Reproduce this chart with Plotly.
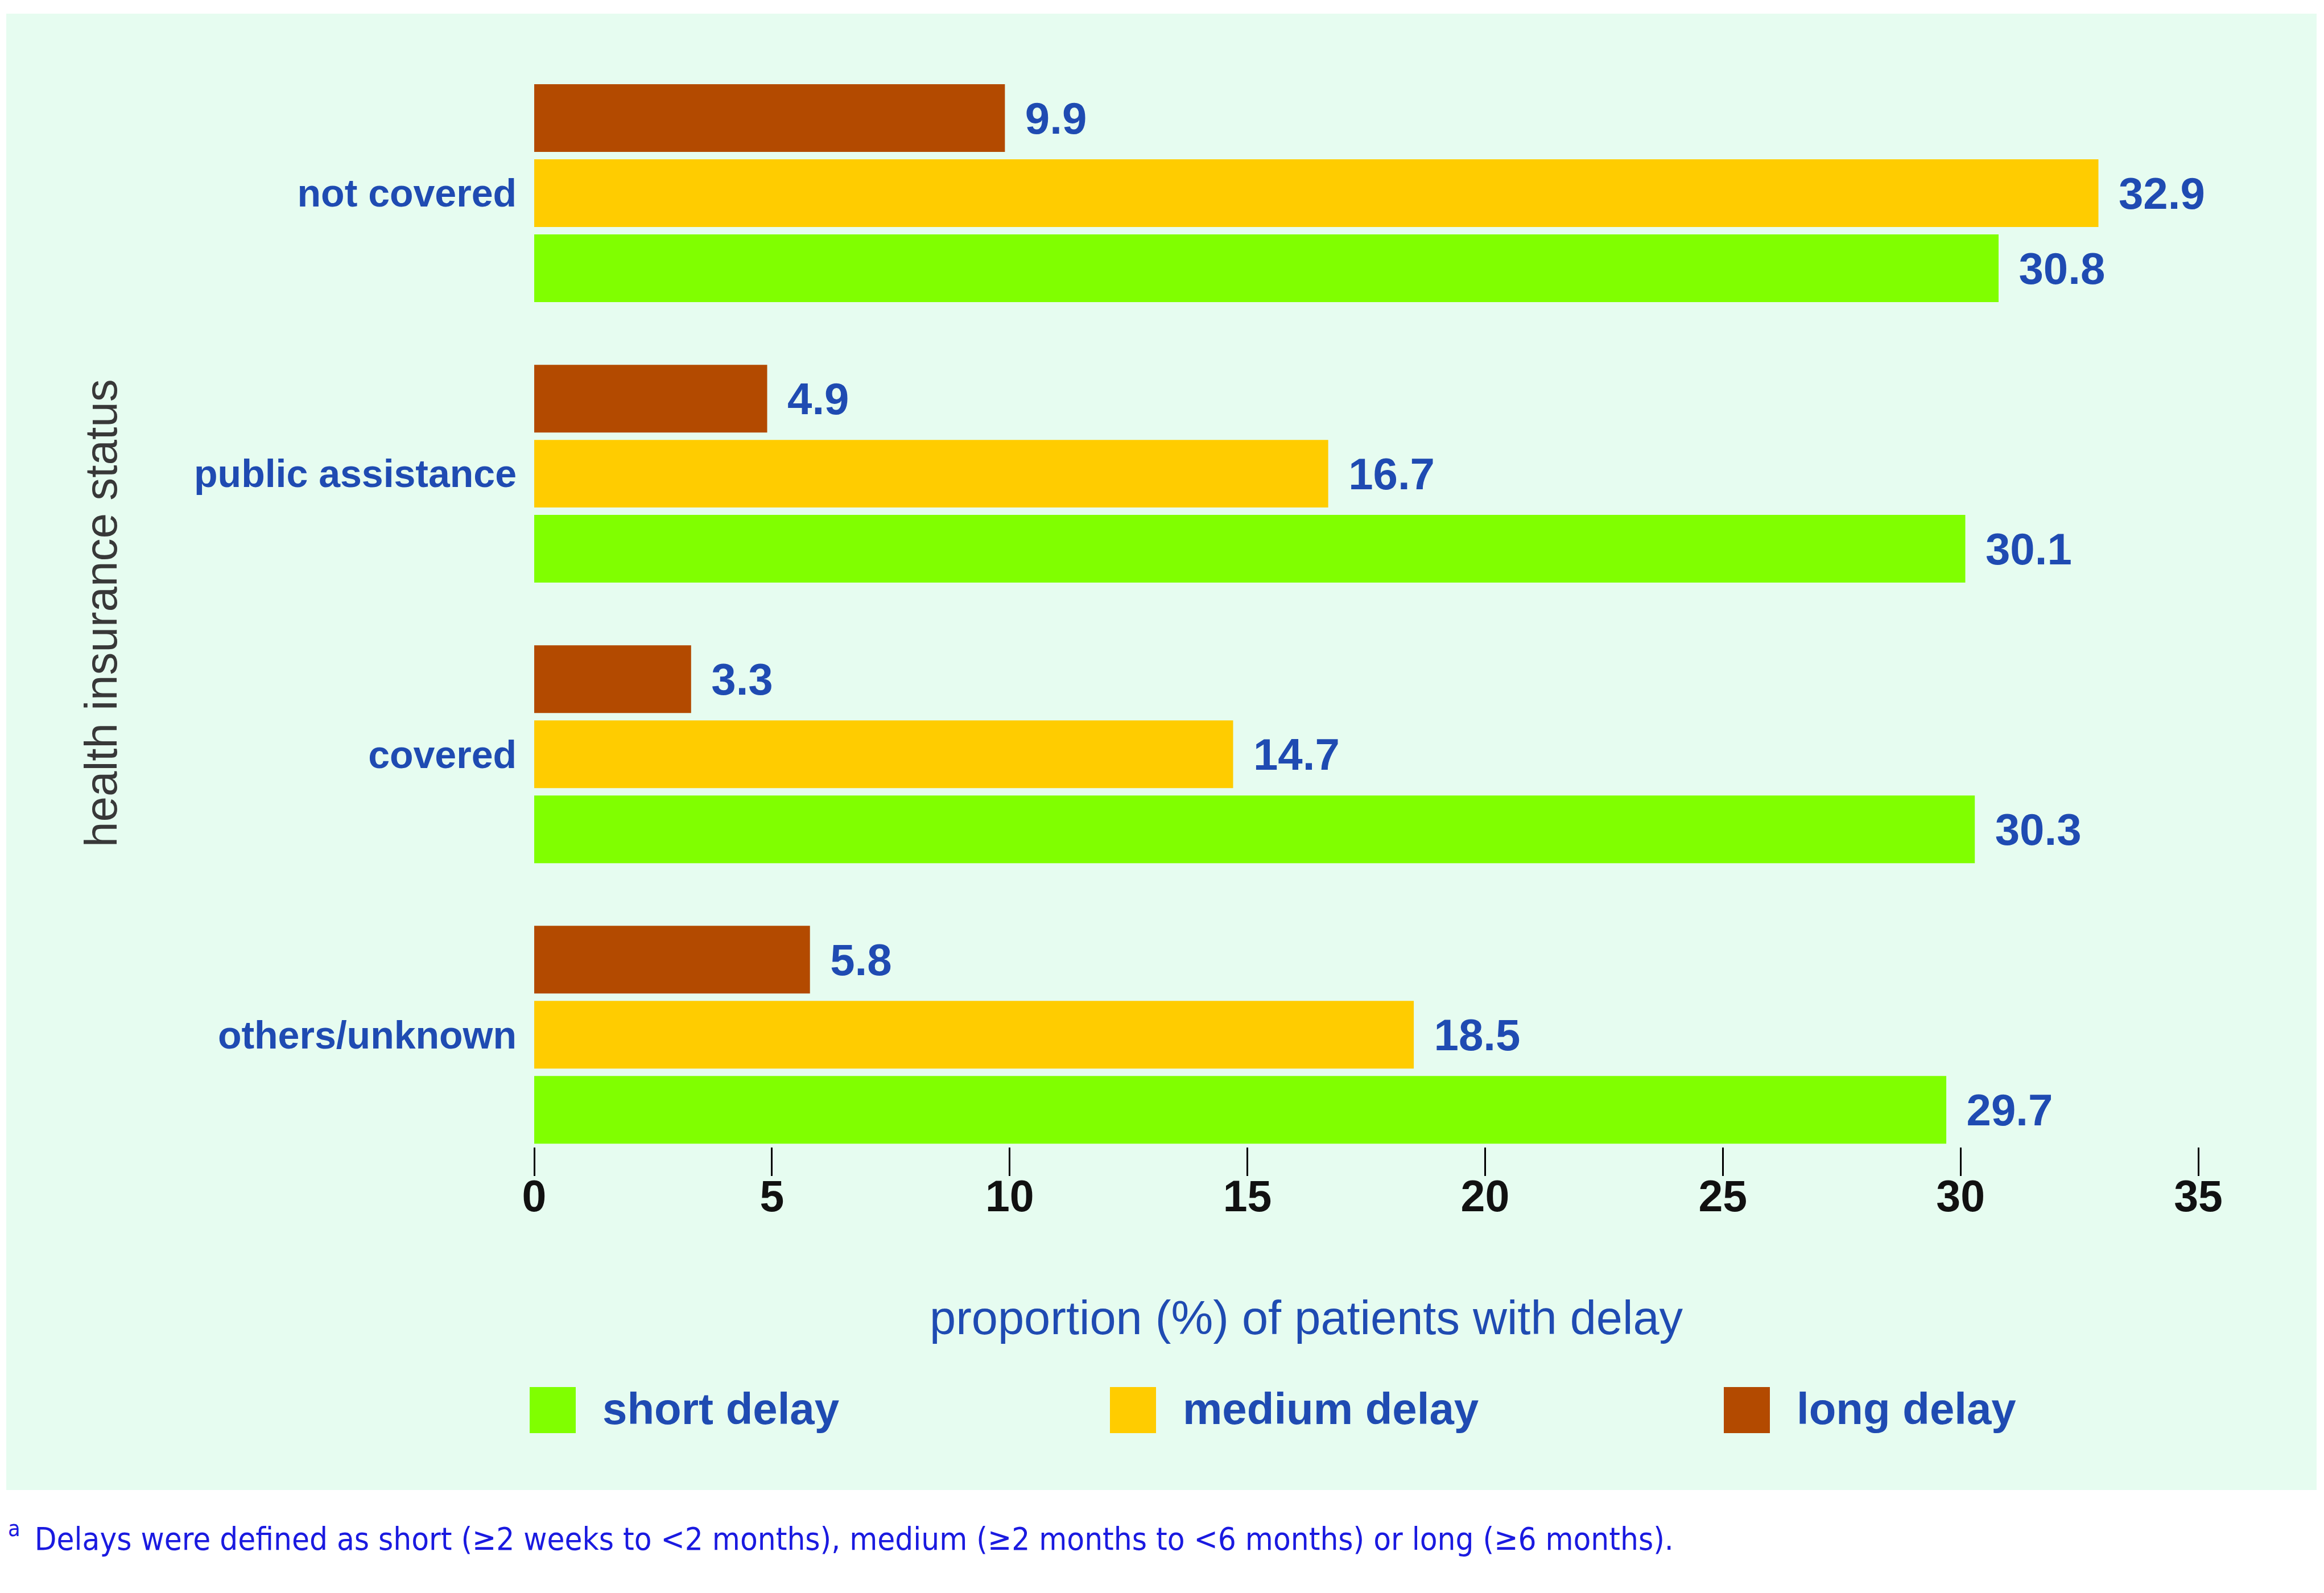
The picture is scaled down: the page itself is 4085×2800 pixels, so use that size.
import plotly.graph_objects as go

# ---- data ----
categories = ["others/unknown", "covered", "public assistance", "not covered"]
short_delay = [29.7, 30.3, 30.1, 30.8]
medium_delay = [18.5, 14.7, 16.7, 32.9]
long_delay = [5.8, 3.3, 4.9, 9.9]
series_names = ["short delay", "medium delay", "long delay"]
series_colors = ["#80FF00", "#FFCC00", "#B34A00"]
x_ticks = [0, 5, 10, 15, 20, 25, 30, 35]

# the page body has an 8px default margin: work in page pixels and shift
OFF = 8
W, H = 4085 - OFF, 2800 - OFF
PX0, PX1, PY0, PY1 = 939, 3864, 93, 2016   # plot area in page pixels
L, R, T, B = PX0 - OFF, W - (PX1 - OFF), PY0 - OFF, H - (PY1 - OFF)
PW, PH = PX1 - PX0, PY1 - PY0

def xp(px):
    return (px - PX0) / PW

def yp(py):
    return (PY1 - py) / PH

BLUE = "#1F4BB2"
SANS = "Liberation Sans, Arial, sans-serif"
COND = "DejaVu Sans Condensed, Liberation Sans, sans-serif"

fig = go.Figure()
for name, vals, col in zip(series_names, [short_delay, medium_delay, long_delay], series_colors):
    fig.add_trace(go.Bar(
        y=categories, x=vals, orientation="h", name=name,
        marker=dict(color=col, line=dict(width=0)),
        texttemplate="\u2005\u2006%{x:.1f}", textposition="outside",
        textfont=dict(family=SANS, size=78, color=BLUE, weight="bold"),
        constraintext="none", cliponaxis=False, showlegend=False,
    ))

fig.update_layout(
    width=W, height=H,
    margin=dict(l=L, r=R, t=T, b=B),
    paper_bgcolor="white", plot_bgcolor="rgba(0,0,0,0)",
    barmode="group", bargap=0.197, bargroupgap=0.0985,
    xaxis=dict(range=[0, 35], tickvals=x_ticks, ticks="outside", ticklen=50, tickwidth=3,
               tickcolor="black", showgrid=False, zeroline=False, showline=False,
               tickfont=dict(family=SANS, size=77, color="#111111", weight="bold"),
               ticklabelstandoff=-30),
    yaxis=dict(range=[-0.4, 3.5], categoryorder="array", categoryarray=categories,
               showgrid=False, zeroline=False, showline=False, ticks="",
               ticklabelstandoff=30,
               tickfont=dict(family=SANS, size=68, color=BLUE, weight="bold")),
)

# panel background
fig.add_shape(type="rect", xref="paper", yref="paper", layer="below",
              x0=xp(11), x1=xp(4072), y0=yp(2619), y1=yp(24),
              fillcolor="#E6FCF0", line=dict(width=0))

# axis titles
fig.add_annotation(xref="paper", yref="paper", x=xp(2296), y=yp(2316),
                   text="proportion (%) of patients with delay", showarrow=False,
                   xanchor="center", yanchor="middle",
                   font=dict(family=SANS, size=83, color=BLUE))
fig.add_annotation(xref="paper", yref="paper", x=xp(177), y=yp(1078),
                   text="health insurance status", showarrow=False, textangle=-90,
                   xanchor="center", yanchor="middle",
                   font=dict(family=SANS, size=80, color="#383838"))

# legend (manual)
sq_x = [931, 1951, 3030]
tx_x = [1057, 2077, 3156]
for name, col, sx, tx in zip(series_names, series_colors, sq_x, tx_x):
    fig.add_shape(type="rect", xref="paper", yref="paper",
                  x0=xp(sx), x1=xp(sx + 81), y0=yp(2519), y1=yp(2438),
                  fillcolor=col, line=dict(width=0))
    fig.add_annotation(xref="paper", yref="paper", x=xp(tx), y=yp(2476),
                       text=name, showarrow=False, xanchor="left", yanchor="middle",
                       font=dict(family=SANS, size=78, color=BLUE, weight="bold"))

# footnote
fig.add_annotation(xref="paper", yref="paper", x=xp(12), y=yp(2700),
                   text="<sup>a</sup>\u2002Delays were defined as short (\u22652 weeks to <2 months), medium (\u22652 months to <6 months) or long (\u22656 months).",
                   showarrow=False, xanchor="left", yanchor="middle",
                   font=dict(family=COND, size=56, color="#1A1AE0"))

fig.write_html("out.html")
